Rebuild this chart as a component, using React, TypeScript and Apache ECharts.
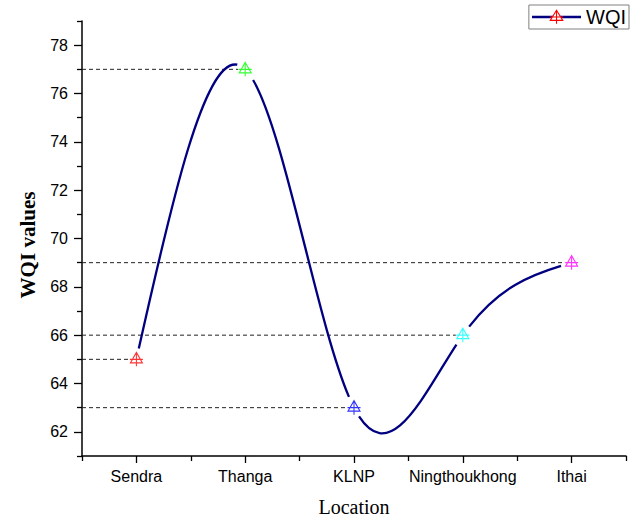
import React, { useEffect, useRef } from "react";
import * as echarts from "echarts";

const categories = ["Sendra", "Thanga", "KLNP", "Ningthoukhong", "Ithai"];
const wqiValues = [65, 77, 63, 66, 69];
const markerColors = ["#ff0000", "#00ff00", "#0000ff", "#00ffff", "#ff00ff"];
const categoryPositions = [0.5, 1.5, 2.5, 3.5, 4.5];
const categoryBoundaries = [0, 1, 2, 3, 4, 5];
const yMajorTicks = [62, 64, 66, 68, 70, 72, 74, 76, 78];
const yMinorTicks = [61, 63, 65, 67, 69, 71, 73, 75, 77, 79];

const MARKER = "path://M0,-7 L6,3.5 L-6,3.5 Z M0,-7 L0,7 M-6.5,0 L6.5,0";

// natural cubic spline slopes (the curve type used by the original plot)
function splineSlopes(xs: number[], ys: number[]): number[] {
  const n = xs.length;
  const h: number[] = [];
  for (let i = 0; i < n - 1; i++) h.push(xs[i + 1] - xs[i]);
  const M = new Array(n).fill(0);
  if (n > 2) {
    const m = n - 2;
    const a: number[] = [], b: number[] = [], c: number[] = [], d: number[] = [];
    for (let i = 1; i <= n - 2; i++) {
      a.push(h[i - 1]);
      b.push(2 * (h[i - 1] + h[i]));
      c.push(h[i]);
      d.push(6 * ((ys[i + 1] - ys[i]) / h[i] - (ys[i] - ys[i - 1]) / h[i - 1]));
    }
    for (let i = 1; i < m; i++) {
      const w = a[i] / b[i - 1];
      b[i] -= w * c[i - 1];
      d[i] -= w * d[i - 1];
    }
    const sol = new Array(m).fill(0);
    sol[m - 1] = d[m - 1] / b[m - 1];
    for (let i = m - 2; i >= 0; i--) sol[i] = (d[i] - c[i] * sol[i + 1]) / b[i];
    for (let i = 0; i < m; i++) M[i + 1] = sol[i];
  }
  const s: number[] = [];
  for (let i = 0; i < n - 1; i++) {
    s.push((ys[i + 1] - ys[i]) / h[i] - (h[i] * (2 * M[i] + M[i + 1])) / 6);
  }
  s.push((ys[n - 1] - ys[n - 2]) / h[n - 2] + (h[n - 2] * (M[n - 2] + 2 * M[n - 1])) / 6);
  return s;
}

type P = number[];
function lerp(a: P, b: P, t: number): P {
  return [a[0] + (b[0] - a[0]) * t, a[1] + (b[1] - a[1]) * t];
}
function splitLeft(p: P[], t: number): P[] {
  const [p0, p1, p2, p3] = p;
  const a = lerp(p0, p1, t), b = lerp(p1, p2, t), c = lerp(p2, p3, t);
  const d = lerp(a, b, t), e = lerp(b, c, t);
  const f = lerp(d, e, t);
  return [p0, a, d, f];
}
function splitRight(p: P[], t: number): P[] {
  const [p0, p1, p2, p3] = p;
  const a = lerp(p0, p1, t), b = lerp(p1, p2, t), c = lerp(p2, p3, t);
  const d = lerp(a, b, t), e = lerp(b, c, t);
  const f = lerp(d, e, t);
  return [f, e, c, p3];
}
function dist(a: P, b: P) {
  return Math.hypot(a[0] - b[0], a[1] - b[1]);
}

export default function App() {
  const ref = useRef<HTMLDivElement>(null);
  useEffect(() => {
    if (!ref.current) return;
    const chart = echarts.init(ref.current, null, { renderer: "svg" });
    const slopes = splineSlopes(categoryPositions, wqiValues);
    const GAP = 11;

    const option: any = {
      animation: false,
      backgroundColor: "#ffffff",
      grid: { left: 82, right: 11, top: 21, bottom: 62, containLabel: false },
      legend: {
        data: ["WQI"],
        right: 8,
        top: 5,
        itemWidth: 49,
        itemHeight: 17,
        padding: [2, 3, 2, 2],
        borderColor: "#808080",
        borderWidth: 1,
        borderRadius: 0,
        itemStyle: { color: "#ffffff", borderColor: "#ff0000", borderWidth: 1.1 },
        lineStyle: { color: "#000080", width: 2.3 },
        textStyle: { fontFamily: "Liberation Sans, Arial", fontSize: 20, color: "#000" },
      },
      xAxis: [
        {
          type: "value",
          min: 0,
          max: 5,
          axisLine: { show: true, lineStyle: { color: "#000", width: 1.5 } },
          splitLine: { show: false },
          axisTick: { show: true, length: 7, lineStyle: { color: "#000", width: 1.3 }, customValues: categoryPositions },
          axisLabel: {
            customValues: categoryPositions,
            margin: 12,
            fontFamily: "Liberation Sans, Arial",
            fontSize: 16,
            color: "#000",
            formatter: (v: number) => {
              const i = categoryPositions.findIndex((p) => Math.abs(p - v) < 1e-6);
              return i >= 0 ? categories[i] : "";
            },
          },
        },
        {
          type: "value",
          min: 0,
          max: 5,
          position: "bottom",
          axisLine: { show: false },
          splitLine: { show: false },
          axisTick: { show: true, length: 5, lineStyle: { color: "#000", width: 1.3 }, customValues: categoryBoundaries },
          axisLabel: { show: false },
        },
      ],
      yAxis: [
        {
          type: "value",
          min: 61,
          max: 79,
          axisLine: { show: true, lineStyle: { color: "#000", width: 1.5 } },
          splitLine: { show: false },
          axisTick: { show: true, length: 8, lineStyle: { color: "#000", width: 1.3 }, customValues: yMajorTicks },
          axisLabel: {
            customValues: yMajorTicks,
            margin: 14,
            fontFamily: "Liberation Sans, Arial",
            fontSize: 16,
            color: "#000",
          },
        },
        {
          type: "value",
          min: 61,
          max: 79,
          position: "left",
          axisLine: { show: false },
          splitLine: { show: false },
          axisTick: { show: true, length: 5, lineStyle: { color: "#000", width: 1.3 }, customValues: yMinorTicks },
          axisLabel: { show: false },
        },
      ],
      graphic: [
        {
          type: "text",
          x: 28,
          y: 245,
          rotation: Math.PI / 2,
          style: {
            text: "WQI values",
            font: 'bold 21px "Liberation Serif", "Times New Roman", serif',
            fill: "#000",
            align: "center",
            verticalAlign: "middle",
          },
        },
        {
          type: "text",
          x: 354,
          y: 507,
          style: {
            text: "Location",
            font: '20px "Liberation Serif", "Times New Roman", serif',
            fill: "#000",
            align: "center",
            verticalAlign: "middle",
          },
        },
      ],
      series: [
        // dashed reference lines from the y axis to each point
        {
          type: "custom",
          name: "guides",
          xAxisIndex: 0,
          yAxisIndex: 0,
          silent: true,
          data: categoryPositions.map((x, i) => [x, wqiValues[i]]),
          encode: { x: 0, y: 1 },
          renderItem: (params: any, api: any) => {
            const i = params.dataIndex;
            const start = api.coord([0, wqiValues[i]]);
            const end = api.coord([categoryPositions[i], wqiValues[i]]);
            return {
              type: "line",
              shape: { x1: start[0], y1: start[1], x2: end[0] - 7, y2: end[1] },
              style: { stroke: "#222", lineWidth: 1, lineDash: [4, 3] },
            };
          },
          z: 1,
        },
        // spline curve
        {
          type: "custom",
          name: "curve",
          xAxisIndex: 0,
          yAxisIndex: 0,
          silent: true,
          data: categoryPositions.map((x, i) => [x, wqiValues[i]]),
          encode: { x: 0, y: 1 },
          renderItem: (params: any, api: any) => {
            const i = params.dataIndex;
            if (i >= categoryPositions.length - 1) return { type: "group", children: [] };
            const x0 = categoryPositions[i], x1 = categoryPositions[i + 1];
            const y0 = wqiValues[i], y1 = wqiValues[i + 1];
            const h = x1 - x0;
            const p0 = api.coord([x0, y0]);
            const p1 = api.coord([x0 + h / 3, y0 + (h * slopes[i]) / 3]);
            const p2 = api.coord([x1 - h / 3, y1 - (h * slopes[i + 1]) / 3]);
            const p3 = api.coord([x1, y1]);
            const t0 = GAP / (3 * dist(p0, p1));
            const t1 = 1 - GAP / (3 * dist(p2, p3));
            let seg = splitLeft([p0, p1, p2, p3], t1);
            seg = splitRight(seg, t0 / t1);
            return {
              type: "bezierCurve",
              shape: {
                x1: seg[0][0], y1: seg[0][1],
                cpx1: seg[1][0], cpy1: seg[1][1],
                cpx2: seg[2][0], cpy2: seg[2][1],
                x2: seg[3][0], y2: seg[3][1],
              },
              style: { stroke: "#000080", lineWidth: 2.3, fill: "none" },
            };
          },
          z: 2,
        },
        // markers
        {
          type: "scatter",
          name: "markers",
          xAxisIndex: 0,
          yAxisIndex: 0,
          symbol: MARKER,
          symbolSize: [13, 14],
          data: categoryPositions.map((x, i) => ({
            value: [x, wqiValues[i]],
            itemStyle: { color: "#ffffff", borderColor: markerColors[i], borderWidth: 1.1 },
          })),
          z: 3,
        },
        // legend entry
        {
          type: "line",
          name: "WQI",
          xAxisIndex: 0,
          yAxisIndex: 0,
          data: [],
          symbol: MARKER,
          lineStyle: { color: "#000080", width: 2.3 },
          itemStyle: { color: "#ffffff", borderColor: "#ff0000", borderWidth: 1.1 },
        },
      ],
    };
    chart.setOption(option);
    return () => chart.dispose();
  }, []);
  return (
    <div
      ref={ref}
      style={{ position: "absolute", left: 0, top: 0, width: 637, height: 518 }}
    />
  );
}
